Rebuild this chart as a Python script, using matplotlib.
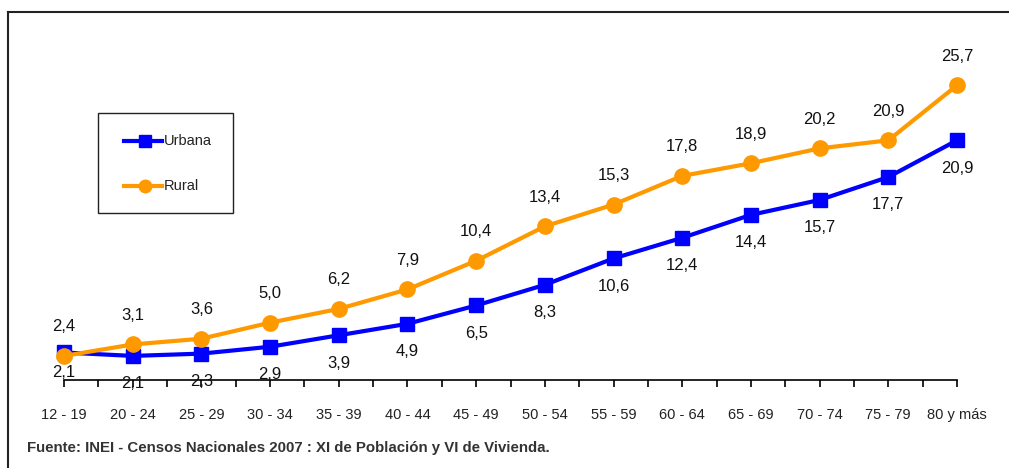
import matplotlib
matplotlib.use("Agg")
import matplotlib.pyplot as plt
from matplotlib.lines import Line2D
from matplotlib.patches import Rectangle

plt.rcParams['font.family'] = ['Liberation Sans', 'DejaVu Sans']

grupos = ['12 - 19', '20 - 24', '25 - 29', '30 - 34', '35 - 39', '40 - 44', '45 - 49',
          '50 - 54', '55 - 59', '60 - 64', '65 - 69', '70 - 74', '75 - 79', '80 y más']
urbana = [2.4, 2.1, 2.3, 2.9, 3.9, 4.9, 6.5, 8.3, 10.6, 12.4, 14.4, 15.7, 17.7, 20.9]
rural = [2.1, 3.1, 3.6, 5.0, 6.2, 7.9, 10.4, 13.4, 15.3, 17.8, 18.9, 20.2, 20.9, 25.7]
series = ['Urbana', 'Rural']

azul = '#0000ff'
naranja = '#ff9900'
W, H = 1009, 468

fig = plt.figure(figsize=(W/100, H/100), dpi=100)
ax = fig.add_axes([64/W, 1-380/H, (957-64)/W, (380-36)/H])

x = list(range(len(grupos)))
ax.plot(x, urbana, color=azul, lw=3, marker='s', ms=10, clip_on=False, zorder=3)
ax.plot(x, rural, color=naranja, lw=3, marker='o', ms=11, clip_on=False, zorder=4)

def fmt(v):
    return ('%.1f' % v).replace('.', ',')

for i in x:
    # first group: labels swapped (urbana above, rural below)
    up_u = (i == 0)
    ax.annotate(fmt(urbana[i]), (i, urbana[i]), xytext=(0, 19 if up_u else -20),
                textcoords='offset points', ha='center', va='center', fontsize=12, color='#111111')
    ax.annotate(fmt(rural[i]), (i, rural[i]), xytext=(0, -12 if up_u else 21),
                textcoords='offset points', ha='center', va='center', fontsize=12, color='#111111')

ax.set_xlim(0, len(grupos) - 1)
ax.set_ylim(0, 30)
for s in ['top', 'right', 'left']:
    ax.spines[s].set_visible(False)
ax.spines['bottom'].set_linewidth(1.2)
ax.set_yticks([])
ax.set_xticks(x)
ax.set_xticklabels(grupos, fontsize=10.5, color='#222222')
ax.set_xticks([i + 0.5 for i in x[:-1]], minor=True)
ax.tick_params(axis='x', which='both', direction='out', length=5, width=1.2, pad=15)

# legend drawn by hand
fig.add_artist(Rectangle((98/W, 1-213/H), 135/W, 100/H, transform=fig.transFigure,
                         fill=False, edgecolor='#222222', lw=1.0))
for nombre, col, mk, ms, yy in [(series[0], azul, 's', 8, 141), (series[1], naranja, 'o', 9, 186)]:
    fig.add_artist(Line2D([124/W, 162/W], [1-yy/H, 1-yy/H], color=col, lw=3))
    fig.add_artist(Line2D([145/W], [1-yy/H], color=col, marker=mk, ms=ms))
    fig.text(164/W, 1-yy/H, nombre, fontsize=10.5, color='#222222', va='center', ha='left')

fig.text(27/W, 1-448/H, 'Fuente: INEI - Censos Nacionales 2007 : XI de Población y VI de Vivienda.',
         fontsize=10.8, fontweight='bold', color='#333333', va='center', ha='left')

# frame lines (top and left)
fig.add_artist(Line2D([8/W, 8/W], [0, 1-12/H], color='#222222', lw=1.5))
fig.add_artist(Line2D([8/W, 1], [1-12/H, 1-12/H], color='#222222', lw=1.5))

fig.savefig('out.png', dpi=100)
